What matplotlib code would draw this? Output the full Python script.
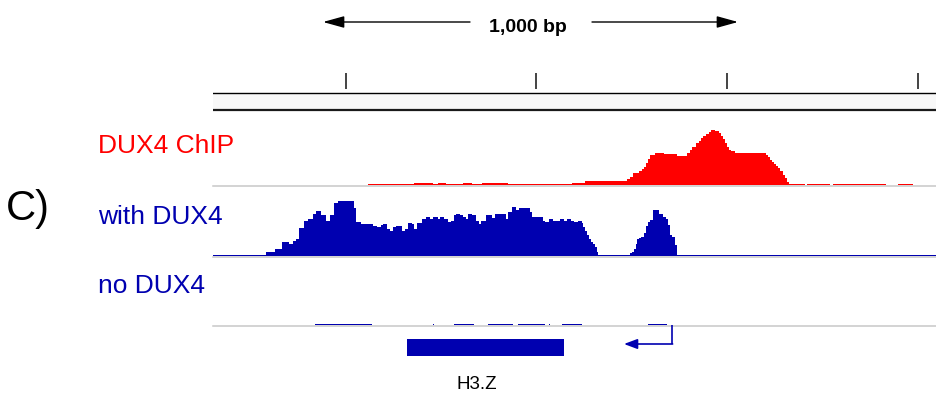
import matplotlib
matplotlib.use("Agg")
import matplotlib.pyplot as plt
from matplotlib.patches import Rectangle

plt.rcParams['font.family'] = ['Liberation Sans', 'DejaVu Sans']

W, H = 937, 394
RED = '#ff0000'
BLUE = '#0000b0'
GRAY = '#c8c8c8'

# Visible window, in screen columns of the track area
view = (0, 724)
ruler_ticks = [133, 323, 514, 705]
scale_label = '1,000 bp'

# DUX4 ChIP coverage (step edges / heights)
chip_edges = [0, 155, 201, 220, 225, 233, 250, 259, 269, 295,
              359, 372, 413.7, 417, 420.3, 426, 428.7, 431, 433, 435,
              437, 442, 451, 463.7, 474.3, 477, 479.3, 483, 485.7, 488,
              490.3, 493, 496.3, 498, 501.7, 505.7, 507.7, 509.7, 511.7, 513.7,
              515.7, 517.7, 522, 552.7, 555, 557, 559, 561, 563, 565.3,
              567.3, 569.7, 572, 574, 575.7, 592, 594, 617, 619.7, 673,
              685, 699.7, 724]
chip_values = [0, 1, 2.3, 1, 2.3, 1, 2.3, 1, 2.3, 1,
               2.3, 4.3, 6.3, 7.7, 11.7, 13.7, 15.7, 18.3, 21.7, 25.7,
               29.7, 32.3, 30.7, 28.7, 32, 35, 37.7, 41.7, 44.3, 47,
               49, 51, 53, 55.3, 53.7, 51.7, 49, 45.7, 41.7, 37.7,
               35, 34.3, 32.3, 30.3, 27.7, 25, 23, 21, 19, 17,
               13.7, 9.7, 7, 3, 1, 0, 1, 0, 1, 0,
               1, 0]

# RNA-seq coverage with DUX4
with_edges = [0, 53, 62, 69.3, 76.3, 79.7, 83, 86.3, 91.3, 94.7,
              100.3, 103, 108, 112.7, 117, 121, 125.3, 141, 143, 147.7,
              159.7, 163.7, 167.7, 170.3, 173.7, 177, 179.7, 183, 188.7, 192,
              195.3, 198.7, 201, 203.7, 208.7, 213, 217, 220.3, 224.7, 227,
              231, 235, 238.3, 241, 243, 247, 250.3, 253, 255, 259,
              263, 265.7, 268.3, 273, 279, 282.3, 293, 295.3, 299, 303,
              305.7, 317, 319, 330.3, 332.3, 336.3, 340.3, 347, 351, 354,
              358, 361, 365.3, 368.7, 370.3, 372, 374, 376, 378, 380,
              382, 383.7, 385.3, 417, 419, 421, 423, 424.3, 426.3, 428.3,
              431, 433, 435, 437, 439.7, 445.7, 450.3, 453, 455, 457,
              459, 461.7, 463.7, 724]
with_values = [1, 4.3, 7, 14, 11.7, 15.3, 16.7, 28, 35.3, 36.7,
               42, 45.3, 40.7, 34.7, 40.7, 52.7, 55, 47.7, 34.3, 32,
               30, 28.7, 31.3, 32, 27.3, 25.3, 28.7, 30, 25.3, 27.3,
               33.3, 32, 27.3, 32.7, 36.7, 38.7, 36.7, 38.7, 36.7, 39,
               36.7, 34, 35, 41, 42, 41, 39.3, 37, 42, 40.7,
               35, 32.3, 35, 41, 38.3, 42, 37.3, 44, 49, 46,
               48, 44, 39, 35, 34, 37, 35, 37, 35, 37,
               35, 34, 35, 32.7, 28.7, 25.3, 21.3, 17.3, 14, 12,
               8.7, 4, 1, 2.7, 4.3, 7.3, 11.7, 16.7, 18.3, 19.3,
               23.3, 30, 34, 36, 46, 42, 38.7, 36.7, 30.7, 21.3,
               19.3, 10.7, 1]

# RNA-seq coverage without DUX4
no_edges = [0, 102, 159, 220, 221, 241, 261, 275, 300, 305,
            332, 336, 337, 349, 369, 435, 454, 724]
no_values = [0, 1, 0, 1, 0, 1, 0, 1, 0, 1,
             0, 1, 0, 1, 0, 1, 0]

# Gene model
gene_name = 'H3.Z'
gene_start, gene_end = 194, 351
gene_tss = 459
gene_tss_arrow_end = 411

tracks = [
    ('DUX4 ChIP', RED, chip_edges, chip_values, 185),
    ('with DUX4', BLUE, with_edges, with_values, 256),
    ('no DUX4', BLUE, no_edges, no_values, 325),
]

fig = plt.figure(figsize=(W / 100, H / 100), dpi=100)


def px_axes(x0, y0, x1, y1, **kw):
    ax = fig.add_axes([x0 / W, 1 - y1 / H, (x1 - x0) / W, (y1 - y0) / H], **kw)
    ax.set_axis_off()
    return ax


# Overlay for labels and the scale bar (pixel coordinates)
over = px_axes(0, 0, W, H)
over.set_xlim(0, W)
over.set_ylim(H, 0)

over.text(6, 220, 'C)', fontsize=30, color='black', ha='left', va='baseline')

# Scale bar
arrow_kw = dict(arrowstyle='-|>,head_length=13,head_width=3.6', mutation_scale=1,
                lw=1.0, color='black', shrinkA=0, shrinkB=0)
over.annotate('', xy=(323, 22), xytext=(470, 22), arrowprops=arrow_kw)
over.annotate('', xy=(738, 22), xytext=(592, 22), arrowprops=arrow_kw)
over.text(528, 32, scale_label, fontsize=14, fontweight='bold', ha='center',
          va='baseline', color='black')

# Ruler
ruler = px_axes(213, 60, 937, 115)
ruler.set_xlim(*view)
ruler.set_ylim(55, 0)
ruler.add_patch(Rectangle((view[0], 33), view[1] - view[0], 16,
                          facecolor='#f8f8f8', edgecolor='none'))
ruler.axhline(32.7, color='black', lw=1.0)
ruler.axhline(50, color='#1a1a1a', lw=1.6)
ruler.vlines(ruler_ticks, 13, 29, color='#111111', lw=1.1)

# Coverage tracks
for label, color, edges, values, base in tracks:
    ax = px_axes(213, base - 60, 937, base)
    ax.set_xlim(*view)
    ax.set_ylim(0, 60)
    ax.axhline(-0.7, color=GRAY, lw=1.1, clip_on=False, zorder=1)
    ax.stairs(values, edges, fill=True, color=color, baseline=0, lw=0, zorder=2)
    over.text(98, base - 32, label, fontsize=19, color=color, ha='left',
              va='baseline')

# Gene track
gene = px_axes(213, 320, 937, 394)
gene.set_xlim(*view)
gene.set_ylim(74, 0)
gene.add_patch(Rectangle((gene_start, 19), gene_end - gene_start, 17,
                         facecolor=BLUE, edgecolor='none'))
gene.plot([gene_tss, gene_tss], [5, 24], color=BLUE, lw=1.2,
          solid_capstyle='butt')
gene.annotate('', xy=(gene_tss_arrow_end, 24), xytext=(gene_tss + 0.6, 24),
              arrowprops=dict(arrowstyle='-|>,head_length=8,head_width=3',
                              mutation_scale=1, lw=1.2, color=BLUE,
                              shrinkA=0, shrinkB=0))
gene.text(263.5, 64.5, gene_name, fontsize=13.5, color='black', ha='center',
          va='center')

fig.savefig('out.png', dpi=100)
